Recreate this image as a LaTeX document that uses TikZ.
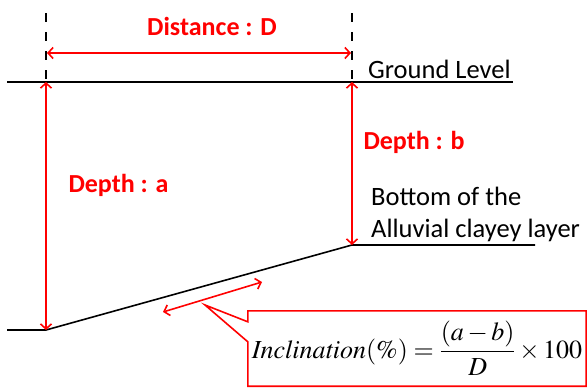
\documentclass[tikz,border=0pt]{standalone}
\usepackage{amsmath}
\usepackage{mathptmx}
\usepackage[no-math]{fontspec}
\setmainfont{Carlito}
\usetikzlibrary{arrows.meta}

\begin{document}
\begin{tikzpicture}[x=1pt,y=-1pt,
  ground/.style={black,line width=1.6pt},
  dim/.style={red,line width=1.6pt,{Straight Barb[length=5pt,width=11pt]}-{Straight Barb[length=5pt,width=11pt]}},
  redlbl/.style={red,font=\fontsize{26}{30}\selectfont\bfseries},
  blklbl/.style={font=\fontsize{26.5}{32}\selectfont,align=left,inner sep=0pt}]

\useasboundingbox (0,0) rectangle (587,388);

% Points of the ground level and of the layer
\coordinate (gl) at (7,82);
\coordinate (gr) at (513,82);
\coordinate (ga) at (46,82);
\coordinate (gb) at (352,82);
\coordinate (bl) at (7,330);
\coordinate (ba) at (46,330);
\coordinate (bb) at (352,245);
\coordinate (br) at (535,245);

% Draw the ground level
\draw[ground] (gl) -- (gr);
\node[blklbl,anchor=base west] (glv) at (368,78) {Ground Level};

% Draw the bottom of the layer
\draw[ground] (bl) -- (ba) -- (bb) -- (br);
\node[blklbl,anchor=base west] (bot) at (371,237) {Bottom of the\\Alluvial clayey layer};

% Dashed guides and the distance
\coordinate (ta) at (46,13);
\coordinate (tb) at (352,13);
\draw[black,line width=1.3pt,dash pattern=on 9pt off 10pt] (ta) -- (46,80);
\draw[black,line width=1.3pt,dash pattern=on 9pt off 10pt] (tb) -- (352,80);
\draw[dim] (47,53) -- (351,53);
\node[redlbl] (dist) at (212,26) {Distance : D};

% Depths
\draw[dim] (ga) -- (ba);
\node[redlbl,anchor=west] (da) at (65,185) {Depth : a};
\draw[dim] (gb) -- (bb);
\node[redlbl,anchor=west] (db) at (360,142) {Depth : b};

% Slope arrow
\coordinate (sa) at (163,312);
\coordinate (sb) at (262,282);
\draw[dim] (sa) -- (sb);

% Callout with the formula
\node[inner sep=0pt,minimum width=338pt,minimum height=75pt] (incl) at (417,348.5)
  {\fontsize{26}{30}\selectfont$\mathit{Inclination}(\%)=\dfrac{(a-b)}{D}\times 100$};
\draw[red,line width=1.6pt,line join=miter]
  (incl.north west) -- (incl.north east) -- (incl.south east) -- (incl.south west)
  -- ([yshift=-31pt]incl.north west) -- (205,305) -- ([yshift=-11pt]incl.north west) -- cycle;

\end{tikzpicture}
\end{document}
